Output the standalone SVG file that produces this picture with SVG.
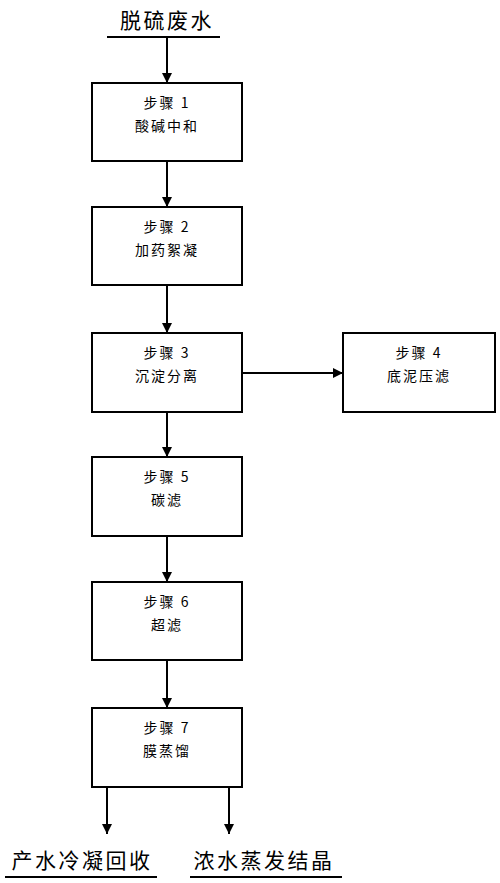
<svg xmlns="http://www.w3.org/2000/svg" width="500" height="883" viewBox="0 0 500 883">
<style>
.box{fill:#fff;stroke:#000;stroke-width:2}
.t{font-family:"Noto Sans CJK SC",sans-serif;font-size:14px;fill:#000;text-anchor:middle;letter-spacing:2px}
.big{font-family:"Noto Sans CJK SC",sans-serif;font-size:21px;fill:#000;text-anchor:middle;letter-spacing:2.5px}
.ln{stroke:#000;stroke-width:2;fill:none}
</style>
<defs>
<marker id="ah" markerWidth="10" markerHeight="10" refX="10" refY="5" orient="auto" markerUnits="userSpaceOnUse">
<path d="M0,0 L10,5 L0,10 Z" fill="#000"/>
</marker>
</defs>
<g id="input">
<text class="big" x="167" y="28">脱硫废水</text>
<line class="ln" x1="107" y1="37" x2="220" y2="37"/>
</g>
<g id="step1">
<rect class="box" x="92" y="83" width="150" height="78"/>
<text class="t" x="167" y="108">步骤 1</text>
<text class="t" x="167" y="131">酸碱中和</text>
</g>
<g id="step2">
<rect class="box" x="92" y="207" width="150" height="78"/>
<text class="t" x="167" y="232">步骤 2</text>
<text class="t" x="167" y="255">加药絮凝</text>
</g>
<g id="step3">
<rect class="box" x="92" y="333" width="150" height="79"/>
<text class="t" x="167" y="358">步骤 3</text>
<text class="t" x="167" y="381">沉淀分离</text>
</g>
<g id="step4">
<rect class="box" x="343" y="333" width="152" height="79"/>
<text class="t" x="419" y="358">步骤 4</text>
<text class="t" x="419" y="381">底泥压滤</text>
</g>
<g id="step5">
<rect class="box" x="92" y="457" width="150" height="79"/>
<text class="t" x="167" y="482">步骤 5</text>
<text class="t" x="167" y="505">碳滤</text>
</g>
<g id="step6">
<rect class="box" x="92" y="582" width="150" height="78"/>
<text class="t" x="167" y="607">步骤 6</text>
<text class="t" x="167" y="630">超滤</text>
</g>
<g id="step7">
<rect class="box" x="92" y="708" width="150" height="79"/>
<text class="t" x="167" y="733">步骤 7</text>
<text class="t" x="167" y="756">膜蒸馏</text>
</g>
<g id="out1">
<text class="big" x="82" y="868">产水冷凝回收</text>
<line class="ln" x1="5" y1="877" x2="157" y2="877"/>
</g>
<g id="out2">
<text class="big" x="264" y="868">浓水蒸发结晶</text>
<line class="ln" x1="190" y1="877" x2="342" y2="877"/>
</g>
<g id="connectors">
<line class="ln" x1="167" y1="37" x2="167" y2="83" marker-end="url(#ah)"/>
<line class="ln" x1="167" y1="161" x2="167" y2="207" marker-end="url(#ah)"/>
<line class="ln" x1="167" y1="285" x2="167" y2="333" marker-end="url(#ah)"/>
<line class="ln" x1="242" y1="373" x2="343" y2="373" marker-end="url(#ah)"/>
<line class="ln" x1="167" y1="412" x2="167" y2="457" marker-end="url(#ah)"/>
<line class="ln" x1="167" y1="536" x2="167" y2="582" marker-end="url(#ah)"/>
<line class="ln" x1="167" y1="660" x2="167" y2="708" marker-end="url(#ah)"/>
<line class="ln" x1="107" y1="787" x2="107" y2="834" marker-end="url(#ah)"/>
<line class="ln" x1="229" y1="787" x2="229" y2="834" marker-end="url(#ah)"/>
</g>
</svg>
